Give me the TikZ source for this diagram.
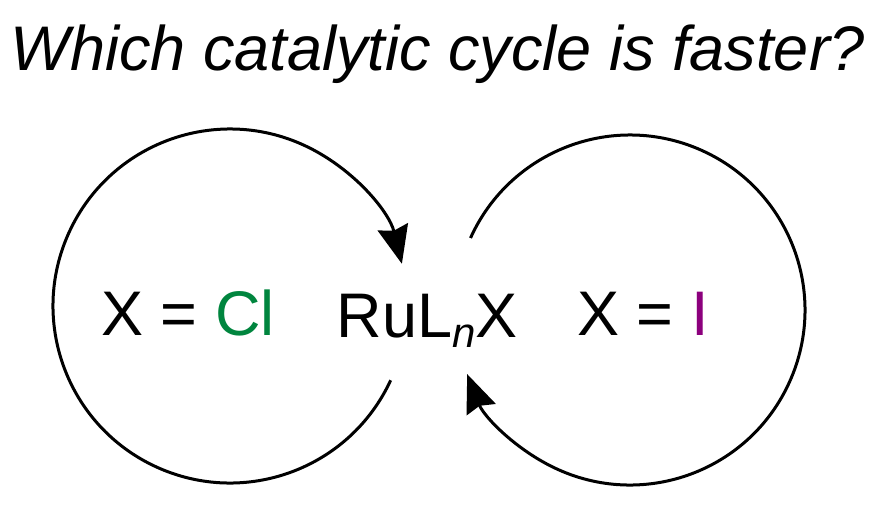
\documentclass[tikz,border=0pt]{standalone}
\usepackage{fontspec}
\setmainfont{Liberation Sans}
\usetikzlibrary{arrows.meta}
\definecolor{clgreen}{RGB}{0,133,62}
\definecolor{ipurple}{RGB}{140,0,125}

\begin{document}
\begin{tikzpicture}[x=1pt, y=-1pt,
		lbl/.style={inner sep=0pt, anchor=base, font=\fontsize{63}{70}\selectfont},
		cyc/.style={line width=3pt, -{Stealth[length=38pt, width=31pt, inset=4pt]}}]
		\useasboundingbox (0,0) rectangle (879,507);

		% Question on top
		\node[lbl, font=\fontsize{63}{70}\selectfont\itshape] (title) at (438,70) {Which catalytic cycle is faster?};

		% Centres of the two cycles
		\coordinate (lc) at (230,306);
		\coordinate (rc) at (630,310);

		% Labels
		\node[lbl] (cl) at (188,335) {X = \textcolor{clgreen}{Cl}};
		\node[lbl] (cat) at (427,337) {RuL\raisebox{-10pt}{\fontsize{42}{42}\selectfont\itshape n}X};
		\node[lbl] (io) at (643,335) {X = \textcolor{ipurple}{I}};

		% The two cycles
		\draw[cyc] ([shift={(24.8:177)}]lc) arc[start angle=24.8, end angle=346.2, radius=177];
		\draw[cyc] ([shift={(204.3:175)}]rc) arc[start angle=204.3, end angle=518.5, radius=175];

	\end{tikzpicture}
\end{document}
